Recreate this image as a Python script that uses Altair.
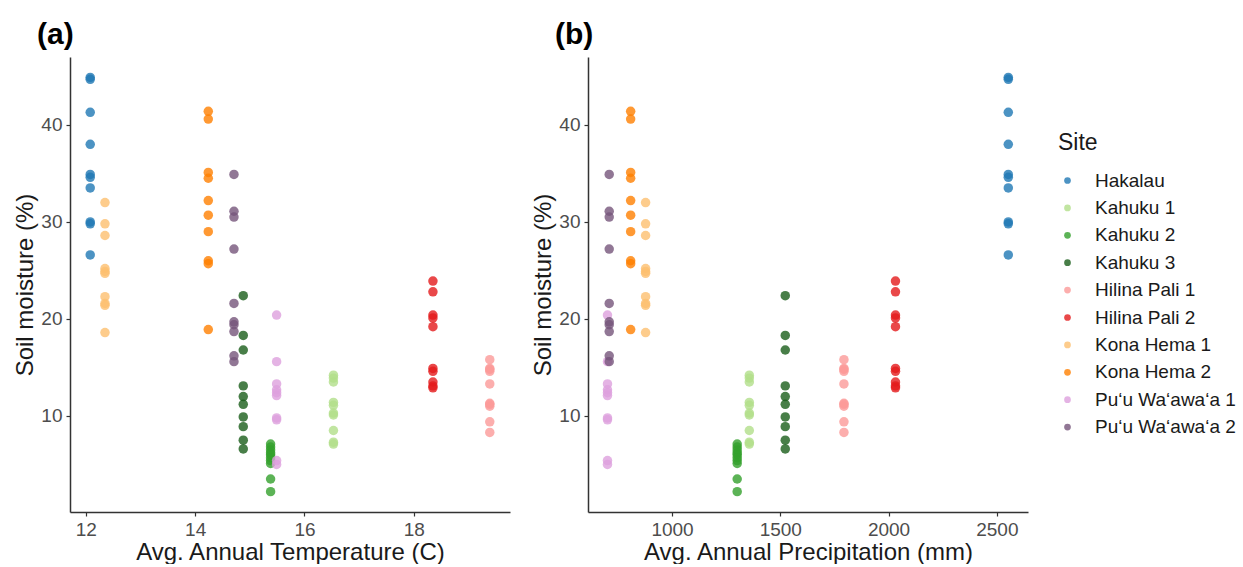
import altair as alt
import pandas as pd

# ---- data ----
sites = ["Hakalau", "Kahuku 1", "Kahuku 2", "Kahuku 3", "Hilina Pali 1",
         "Hilina Pali 2", "Kona Hema 1", "Kona Hema 2",
         "Pu\u2018u Wa\u2018awa\u2018a 1", "Pu\u2018u Wa\u2018awa\u2018a 2"]
colors = ["#1F78B4", "#B2DF8A", "#33A02C", "#1A5E1A", "#FB9A99",
          "#E31A1C", "#FDBF6F", "#FF7F00", "#DDA0DD", "#76557B"]

# site-level climate (one value per site, same order as `sites`)
temperature = [12.08, 16.53, 15.38, 14.88, 19.39, 18.35, 12.35, 14.24, 15.49, 14.71]
precipitation = [2553, 1357, 1301, 1523, 1794, 2032, 878, 809, 702, 710]

# soil moisture (%) per site
hakalau = [44.9, 44.7, 41.3, 38.0, 34.9, 34.6, 33.5, 30.0, 29.8, 26.6]
kahuku_1 = [14.2, 13.9, 13.5, 11.4, 11.1, 10.3, 10.1, 8.5, 7.3, 7.1]
kahuku_2 = [7.1, 6.8, 6.5, 6.2, 6.0, 5.7, 5.4, 5.1, 3.5, 2.2]
kahuku_3 = [22.4, 18.3, 16.8, 13.1, 12.0, 11.2, 9.9, 8.9, 7.5, 6.6]
hilina_pali_1 = [15.8, 14.9, 14.8, 14.6, 13.3, 11.3, 11.2, 11.0, 9.4, 8.3]
hilina_pali_2 = [23.9, 22.8, 20.4, 20.1, 19.2, 14.9, 14.6, 13.5, 13.1, 12.9]
kona_hema_1 = [32.0, 29.8, 28.6, 25.2, 24.9, 24.7, 22.3, 21.6, 21.4, 18.6]
kona_hema_2 = [41.4, 40.6, 35.1, 34.5, 32.2, 30.7, 29.0, 26.0, 25.7, 18.9]
puu_waawaa_1 = [20.4, 15.6, 13.3, 12.7, 12.4, 12.1, 9.8, 9.6, 5.4, 5.0]
puu_waawaa_2 = [34.9, 31.1, 30.5, 27.2, 21.6, 19.7, 19.4, 18.7, 16.2, 15.6]

moisture = [hakalau, kahuku_1, kahuku_2, kahuku_3, hilina_pali_1,
            hilina_pali_2, kona_hema_1, kona_hema_2, puu_waawaa_1, puu_waawaa_2]

rows = []
for s, t, p, vals in zip(sites, temperature, precipitation, moisture):
    for v in vals:
        rows.append({"site": s, "temp": t, "precip": p, "moist": v})
df = pd.DataFrame(rows)

FONT = "Liberation Sans"

color = alt.Color(
    "site:N",
    scale=alt.Scale(domain=sites, range=colors),
    sort=sites,
    legend=alt.Legend(
        title="Site", orient="none", legendX=988, legendY=75,
        symbolType="circle", symbolSize=45, symbolOpacity=0.8,
        symbolOffset=0, labelOffset=18, rowPadding=7.4, titlePadding=16,
        titleFontSize=23, titleFontWeight="normal", titleFont=FONT,
        labelFontSize=19, labelFont=FONT, labelColor="#1a1a1a", titleColor="#1a1a1a",
    ),
)

y_enc = alt.Y(
    "moist:Q",
    scale=alt.Scale(domain=[0.1, 47], nice=False, zero=False),
    axis=alt.Axis(values=[10, 20, 30, 40], title="Soil moisture (%)", titlePadding=3),
)

base = alt.Chart(df).mark_circle(size=90, opacity=0.8)

title_style = dict(anchor="start", frame="group", dx=-33, offset=7,
                   fontSize=30, fontWeight="bold", font=FONT, color="black")

left = base.encode(
    x=alt.X("temp:Q",
            scale=alt.Scale(domain=[11.71, 19.76], nice=False, zero=False),
            axis=alt.Axis(values=[12, 14, 16, 18], format="d",
                          title="Avg. Annual Temperature (C)")),
    y=y_enc,
    color=color,
).properties(width=440, height=455, title=alt.TitleParams("(a)", **title_style))

right = base.encode(
    x=alt.X("precip:Q",
            scale=alt.Scale(domain=[612, 2644], nice=False, zero=False),
            axis=alt.Axis(values=[1000, 1500, 2000, 2500], format="d",
                          title="Avg. Annual Precipitation (mm)")),
    y=y_enc,
    color=color,
).properties(width=440, height=455, title=alt.TitleParams("(b)", **title_style))

chart = alt.hconcat(left, right, spacing=21).properties(
    padding={"left": 13, "top": 20, "right": 0, "bottom": 0},
    background="white",
).configure_view(stroke=None).configure_axis(
    grid=False,
    domainColor="#333333", domainWidth=1.5,
    tickColor="#333333", tickSize=4, tickWidth=1.2,
    labelFont=FONT, labelFontSize=19, labelColor="#4D4D4D", labelPadding=4,
    titleFont=FONT, titleFontSize=24, titleFontWeight="normal", titleColor="#1a1a1a",
    titlePadding=1,
)

chart.save("out.html", embed_options={"renderer": "svg", "actions": False})
